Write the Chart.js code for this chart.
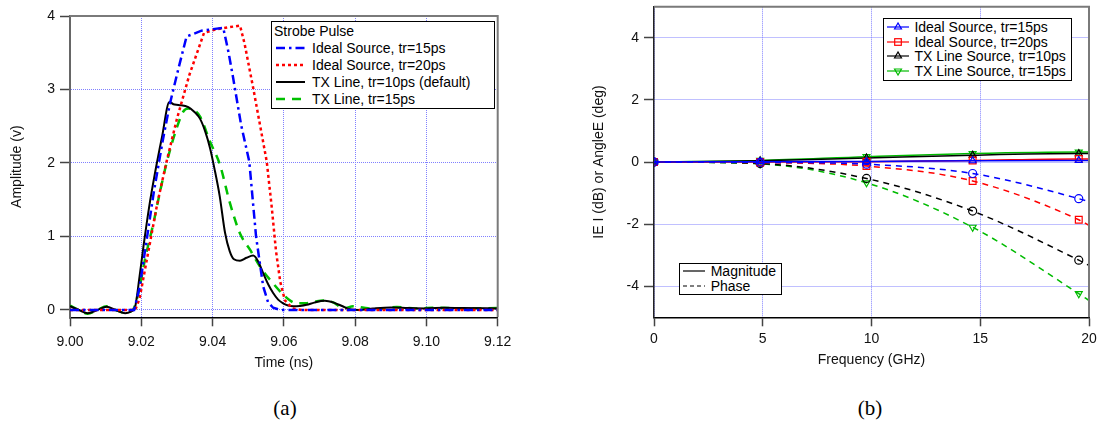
<!DOCTYPE html>
<html>
<head>
<meta charset="utf-8">
<script src="https://cdn.jsdelivr.net/npm/chart.js@4.4.1/dist/chart.umd.min.js"></script>
<style>
  body { margin: 0; background: #fff; }
  #page { position: relative; width: 1099px; height: 422px; overflow: hidden; background: #fff;
          font-family: "Liberation Sans", Arial, sans-serif; color: #000; }
  canvas { position: absolute; top: 0; }
  #cvA { left: 0; }
  #cvB { left: 560px; }
  .legend { position: absolute; box-sizing: border-box; border: 1px solid #000; background: #fff; font-size: 14px; }
  .legend .row { display: flex; align-items: center; white-space: nowrap; }
  .legend svg { flex: none; }
  .caption { position: absolute; top: 396px; width: 100px; text-align: center; line-height: 24px;
             font-family: "Liberation Serif", "Times New Roman", serif; font-size: 21px; }
</style>
</head>
<body>
<div id="page">
  <canvas id="cvA" width="540" height="380"></canvas>
  <canvas id="cvB" width="539" height="380"></canvas>
  <div id="legA" class="legend" style="left:271px;top:21px;width:224px;height:88px;"></div>
  <div id="legB" class="legend" style="left:883px;top:18px;width:189px;height:63px;"></div>
  <div id="legC" class="legend" style="left:679px;top:263px;width:103px;height:32px;"></div>
  <div class="caption" style="left:235px;">(a)</div>
  <div class="caption" style="left:820px;">(b)</div>
</div>
<script>
// ---------- (a) strobe pulse in time ----------
const timeTicks = [9.0, 9.02, 9.04, 9.06, 9.08, 9.1, 9.12];
const ampTicks = [0, 1, 2, 3, 4];
const pulseTitle = "Strobe Pulse";
const pulseNames = ["Ideal Source, tr=15ps", "Ideal Source, tr=20ps", "TX Line, tr=10ps (default)", "TX Line, tr=15ps"];

const ideal15T = [9.0, 9.018, 9.0195, 9.0215, 9.0235, 9.026, 9.028, 9.0305, 9.0327, 9.0369, 9.043, 9.0445, 9.0458, 9.048, 9.0503, 9.0522, 9.0542, 9.0556, 9.057, 9.059, 9.12];
const ideal15V = [0, 0, 0.3, 0.95, 1.6, 2.3, 2.8, 3.3, 3.72, 3.8, 3.84, 3.5, 3.15, 2.52, 2.02, 1.0, 0.32, 0.1, 0.03, 0, 0];

const ideal20T = [9.0, 9.0183, 9.0195, 9.022, 9.0245, 9.027, 9.03, 9.0335, 9.0376, 9.0411, 9.0477, 9.049, 9.0514, 9.0533, 9.0552, 9.0566, 9.0578, 9.059, 9.0603, 9.0625, 9.065, 9.12];
const ideal20V = [0, 0, 0.15, 0.8, 1.45, 2.0, 2.6, 3.2, 3.77, 3.82, 3.87, 3.62, 3.02, 2.52, 2.02, 1.4, 0.8, 0.38, 0.13, 0.02, 0, 0];

const tx10T = [9.0, 9.0025, 9.005, 9.0077, 9.0103, 9.0128, 9.0155, 9.0172, 9.0182, 9.0195, 9.0206, 9.0222, 9.0238, 9.0258, 9.0279, 9.029, 9.0304, 9.0332, 9.035, 9.0365, 9.038, 9.0393, 9.0405, 9.042, 9.0435, 9.0448, 9.046, 9.0477, 9.0495, 9.0514, 9.0528, 9.0542, 9.0556, 9.057, 9.0584, 9.0598, 9.0612, 9.0626, 9.0645, 9.0664, 9.0685, 9.0715, 9.074, 9.0765, 9.0785, 9.081, 9.085, 9.09, 9.095, 9.1, 9.105, 9.11, 9.12];
const tx10V = [0.05, 0, -0.045, 0, 0.045, 0, -0.045, -0.02, 0.03, 0.45, 0.86, 1.4, 1.85, 2.35, 2.83, 2.8, 2.79, 2.76, 2.69, 2.6, 2.42, 2.2, 1.93, 1.55, 1.05, 0.8, 0.69, 0.67, 0.71, 0.74, 0.66, 0.5, 0.35, 0.23, 0.14, 0.09, 0.06, 0.05, 0.055, 0.07, 0.1, 0.125, 0.1, 0.05, 0.01, 0, 0.02, 0.035, 0.025, 0.02, 0.03, 0.025, 0.02];

const tx15T = [9.0, 9.0025, 9.0049, 9.0077, 9.0103, 9.0128, 9.0155, 9.0172, 9.018, 9.0195, 9.021, 9.0234, 9.025, 9.0271, 9.0299, 9.0318, 9.0332, 9.0348, 9.0365, 9.0393, 9.0421, 9.0449, 9.0477, 9.0505, 9.0533, 9.057, 9.06, 9.062, 9.0636, 9.066, 9.0685, 9.071, 9.074, 9.0767, 9.0795, 9.0825, 9.086, 9.0917, 9.097, 9.103, 9.11, 9.12];
const tx15V = [0.06, 0, -0.05, 0, 0.05, 0, -0.04, -0.015, 0.03, 0.3, 0.68, 1.18, 1.55, 2.0, 2.47, 2.7, 2.74, 2.72, 2.63, 2.29, 1.97, 1.45, 1.04, 0.82, 0.59, 0.36, 0.2, 0.12, 0.09, 0.09, 0.11, 0.13, 0.1, 0.02, 0.05, 0.03, 0.01, 0.04, 0.02, 0.03, 0.02, 0.025];

// ---------- (b) error vs frequency ----------
const freqTicks = [0, 5, 10, 15, 20];
const errTicks = [-4, -2, 0, 2, 4];
const sourceNames = ["Ideal Source, tr=15ps", "Ideal Source, tr=20ps", "TX Line Source, tr=10ps", "TX Line Source, tr=15ps"];
const partNames = ["Magnitude", "Phase"];
const freqGHz = [0, 4.88, 9.77, 14.65, 19.53, 20];

const magIdeal15 = [0, 0.01, 0.02, 0.04, 0.05, 0.05];
const magIdeal20 = [0, 0, 0.01, 0.05, 0.1, 0.1];
const magTx10 = [0, 0.04, 0.13, 0.22, 0.27, 0.27];
const magTx15 = [0, 0.05, 0.17, 0.27, 0.32, 0.32];

const phIdeal15 = [0, -0.01, -0.07, -0.37, -1.18, -1.28];
const phIdeal20 = [0, -0.02, -0.13, -0.61, -1.86, -2.04];
const phTx10 = [0, -0.05, -0.53, -1.58, -3.16, -3.33];
const phTx15 = [0, -0.06, -0.67, -2.1, -4.24, -4.46];

Chart.defaults.font.family = '"Liberation Sans", Arial, sans-serif';
Chart.defaults.font.size = 14;
Chart.defaults.color = "#111";

const GRID = "#8080ff";

// top and right edges of the plot frame
const framePlugin = {
	id: "frame",
	afterDraw(chart) {
		const { ctx, chartArea: a } = chart;
		ctx.save();
		ctx.strokeStyle = "#7a7a7a";
		ctx.lineWidth = 2;
		ctx.beginPath();
		ctx.moveTo(a.left, a.top);
		ctx.lineTo(a.right, a.top);
		ctx.lineTo(a.right, a.bottom);
		ctx.stroke();
		ctx.restore();
	},
};

const fixBox = (size) => (scale) => {
	if (scale.isHorizontal()) scale.height = size;
	else scale.width = size;
	scale.paddingTop = scale.paddingBottom = scale.paddingLeft = scale.paddingRight = 0;
};
const useTicks = (values) => (scale) => {
	scale.ticks = values.map((value) => ({ value }));
};

const axis = (o) => ({
	type: "linear",
	min: o.min,
	max: o.max,
	afterBuildTicks: useTicks(o.ticks),
	afterFit: fixBox(o.size),
	ticks: { callback: o.fmt, padding: o.pad, autoSkip: false, maxRotation: 0, color: "#111" },
	grid: { color: GRID, lineWidth: 1, tickColor: "#444", tickLength: o.tick, tickWidth: 1.5 },
	border: { color: o.border, width: o.bw, dash: [1, 1] },
	title: { display: true, text: o.title, color: "#111", padding: o.titlePad },
});

// ---------- chart (a) ----------
const pulseSeries = [
	{ t: ideal15T, v: ideal15V, color: "#0000ff", dash: [9, 4, 2.5, 4], width: 2.5, smooth: false },
	{ t: ideal20T, v: ideal20V, color: "#ff0000", dash: [3, 3], width: 2.5, smooth: false },
	{ t: tx10T, v: tx10V, color: "#000000", dash: [], width: 2, smooth: true },
	{ t: tx15T, v: tx15V, color: "#00c000", dash: [9, 7], width: 2.5, smooth: true },
];

new Chart(document.getElementById("cvA"), {
	type: "line",
	data: {
		datasets: pulseSeries.map((s, i) => ({
			label: pulseNames[i],
			data: s.t.map((x, k) => ({ x, y: s.v[k] })),
			borderColor: s.color,
			borderWidth: s.width,
			borderDash: s.dash,
			pointRadius: 0,
			fill: false,
			tension: 0,
			cubicInterpolationMode: s.smooth ? "monotone" : "default",
		})),
	},
	options: {
		responsive: false,
		animation: false,
		events: [],
		layout: { padding: { top: 16, right: 42.3, bottom: 0, left: 0 } },
		plugins: { legend: { display: false }, tooltip: { enabled: false } },
		scales: {
			x: axis({ min: 9.0, max: 9.12, ticks: timeTicks, size: 62.7, fmt: (v) => Number(v).toFixed(2), pad: 7, tick: 9,
				border: "#000", bw: 1.5, title: "Time (ns)", titlePad: { top: 0, bottom: 8.3 } }),
			y: axis({ min: -0.1, max: 4, ticks: ampTicks, size: 70, fmt: (v) => String(v), pad: 5, tick: 10,
				border: "#666", bw: 2, title: "Amplitude (v)", titlePad: { top: 8.8, bottom: 0 } }),
		},
	},
	plugins: [framePlugin],
});

// ---------- chart (b) ----------
const errSeries = [
	{ mag: magIdeal15, ph: phIdeal15, color: "#0000ff", magMark: "triangle", phMark: "circle", rot: 0 },
	{ mag: magIdeal20, ph: phIdeal20, color: "#ff0000", magMark: "rect", phMark: "rect", rot: 0 },
	{ mag: magTx10, ph: phTx10, color: "#000000", magMark: "triangle", phMark: "circle", rot: 0 },
	{ mag: magTx15, ph: phTx15, color: "#00bb00", magMark: "triangle", phMark: "triangle", rot: 180 },
];

const markRadius = (style) => freqGHz.map((f, i) => (i === freqGHz.length - 1 ? 0 : style === "rect" ? 4.8 : 4));

const errDatasets = [];
errSeries.forEach((s, i) => {
	errDatasets.push({
		label: sourceNames[i] + " " + partNames[0],
		data: freqGHz.map((x, k) => ({ x, y: s.mag[k] })),
		borderColor: s.color,
		borderWidth: 1.5,
		pointStyle: s.magMark,
		pointRotation: s.rot,
		pointRadius: markRadius(s.magMark),
		pointBorderWidth: 1.2,
		pointBorderColor: s.color,
		pointBackgroundColor: "rgba(0,0,0,0)",
		cubicInterpolationMode: "monotone",
		fill: false,
	});
	errDatasets.push({
		label: sourceNames[i] + " " + partNames[1],
		data: freqGHz.map((x, k) => ({ x, y: s.ph[k] })),
		borderColor: s.color,
		borderWidth: 1.5,
		borderDash: [6, 5],
		pointStyle: s.phMark,
		pointRotation: s.rot,
		pointRadius: markRadius(s.phMark),
		pointBorderWidth: 1.2,
		pointBorderColor: s.color,
		pointBackgroundColor: "rgba(0,0,0,0)",
		cubicInterpolationMode: "monotone",
		fill: false,
	});
});

new Chart(document.getElementById("cvB"), {
	type: "line",
	data: { datasets: errDatasets },
	options: {
		responsive: false,
		animation: false,
		events: [],
		layout: { padding: { top: 6.7, right: 10, bottom: 0, left: 0 } },
		plugins: { legend: { display: false }, tooltip: { enabled: false } },
		scales: {
			x: axis({ min: 0, max: 20, ticks: freqTicks, size: 62.7, fmt: (v) => String(v), pad: 4.5, tick: 9,
				border: "#000", bw: 1.5, title: "Frequency (GHz)", titlePad: { top: 0, bottom: 11.6 } }),
			y: axis({ min: -5, max: 5, ticks: errTicks, size: 94, fmt: (v) => String(v), pad: 5, tick: 10,
				border: "#222", bw: 1.5, title: "IE I (dB) or AngleE (deg)", titlePad: { top: 30.6, bottom: 0 } }),
		},
	},
	plugins: [framePlugin],
});

// ---------- legends (html text) ----------
const markSvg = (style, color, cx, cy, rot) => {
	if (style === "circle") return `<circle cx="${cx}" cy="${cy}" r="3.3" fill="none" stroke="${color}" stroke-width="1.2"/>`;
	if (style === "rect") return `<rect x="${cx - 3.3}" y="${cy - 3.3}" width="6.6" height="6.6" fill="none" stroke="${color}" stroke-width="1.2"/>`;
	const r = 4, s = rot ? -1 : 1;
	const pts = [[cx, cy - s * r], [cx - r * 0.866, cy + s * r / 2], [cx + r * 0.866, cy + s * r / 2]];
	return `<polygon points="${pts.map((p) => p.join(",")).join(" ")}" fill="none" stroke="${color}" stroke-width="1.2"/>`;
};
const lineSvg = (w, h, color, width, dash, mark) =>
	`<svg width="${w}" height="${h}"><line x1="0" y1="${h / 2}" x2="${w}" y2="${h / 2}" stroke="${color}" stroke-width="${width}" stroke-dasharray="${dash.join(" ")}"/>${mark || ""}</svg>`;

const legA = document.getElementById("legA");
legA.innerHTML =
	`<div class="row" style="height:17px;padding-left:2px;">${pulseTitle}</div>` +
	pulseSeries
		.map((s, i) => `<div class="row" style="height:17px;"><span style="margin-left:4px;margin-right:7px;display:flex;">${lineSvg(29, 10, s.color, s.width, s.dash)}</span>${pulseNames[i]}</div>`)
		.join("");
legA.style.paddingTop = "0.5px";

const legB = document.getElementById("legB");
legB.innerHTML = errSeries
	.map((s, i) => `<div class="row" style="height:14.7px;"><span style="margin-left:2.7px;margin-right:5.7px;display:flex;">${lineSvg(22, 12, s.color, 1.2, [], markSvg(s.magMark, s.color, 11, 6, s.rot))}</span>${sourceNames[i]}</div>`)
	.join("");
legB.style.paddingTop = "0.6px";

const legC = document.getElementById("legC");
legC.innerHTML = partNames
	.map((name, i) => `<div class="row" style="height:14.7px;"><span style="margin-left:3px;margin-right:5.7px;display:flex;">${lineSvg(22, 10, "#000", 1.2, i ? [4, 3] : [])}</span>${name}</div>`)
	.join("");
</script>
</body>
</html>
